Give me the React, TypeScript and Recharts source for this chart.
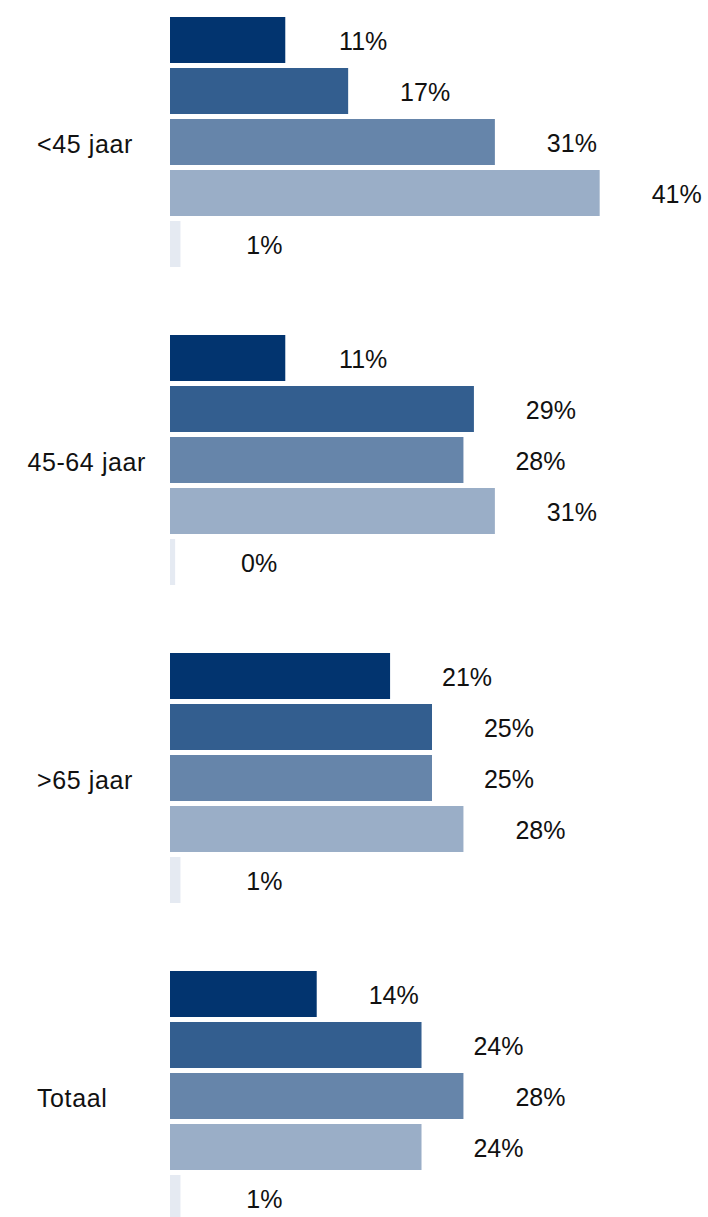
import React from 'react';
import { BarChart, Bar, XAxis, YAxis } from 'recharts';

const categories = ['<45 jaar', '45-64 jaar', '>65 jaar', 'Totaal'];
const series1 = [11, 11, 21, 14];
const series2 = [17, 29, 25, 24];
const series3 = [31, 28, 25, 28];
const series4 = [41, 31, 28, 24];
const series5 = [1, 0.49, 1, 1];
const seriesKeys = ['s1', 's2', 's3', 's4', 's5'];
const colors = ['#02346f', '#335e8f', '#6685aa', '#9aaec7', '#e5eaf2'];

const data = categories.map((c, i) => ({
  name: c,
  s1: series1[i],
  s2: series2[i],
  s3: series3[i],
  s4: series4[i],
  s5: series5[i],
}));

const FONT = '"Liberation Sans", Arial, sans-serif';

const ValueLabel = (props: any) => {
  const { x, y, width, height, value } = props;
  return (
    <text
      x={x + width + 102}
      y={y + height / 2 + 1}
      textAnchor="end"
      dominantBaseline="central"
      fontFamily={FONT}
      fontSize={25}
      fill="#111"
    >
      {`${Math.round(value)}%`}
    </text>
  );
};

const CatTick = (props: any) => {
  const { x, y, payload } = props;
  const label: string = payload.value;
  const long = label.length > 8;
  return (
    <text
      x={long ? x - 16 : x - 125}
      y={y + 2}
      textAnchor={long ? 'end' : 'start'}
      dominantBaseline="central"
      fontFamily={FONT}
      fontSize={25}
      letterSpacing={0.6}
      fill="#111"
    >
      {label}
    </text>
  );
};

export default function App() {
  return (
    <div style={{ position: 'absolute', top: -17, left: 0 }}>
      <BarChart
        width={708}
        height={1272}
        data={data}
        layout="vertical"
        margin={{ top: 0, right: 14, bottom: 0, left: 0 }}
        barSize={46}
        barGap={5}
      >
        <XAxis type="number" domain={[0, 50]} hide />
        <YAxis
          type="category"
          dataKey="name"
          width={170}
          axisLine={false}
          tickLine={false}
          tick={<CatTick />}
        />
        {seriesKeys.map((k, i) => (
          <Bar
            key={k}
            dataKey={k}
            fill={colors[i]}
            isAnimationActive={false}
            label={<ValueLabel />}
          />
        ))}
      </BarChart>
    </div>
  );
}
